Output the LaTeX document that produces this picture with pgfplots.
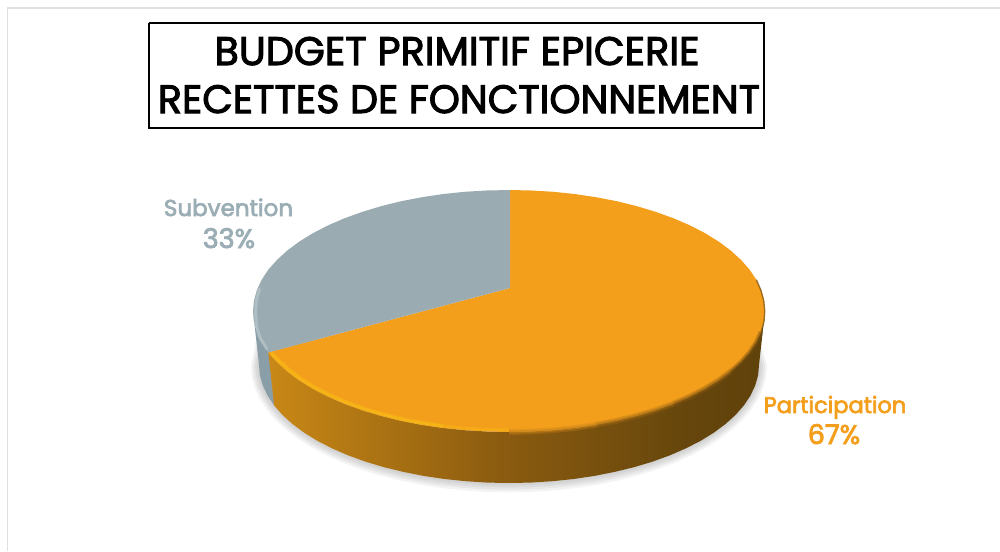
\documentclass[border=0pt]{standalone}
\usepackage{fontspec}
\usepackage{graphicx}
\usepackage{pgfplots}
\usepackage{pgfplotstable}
\pgfplotsset{compat=1.18}
\setmainfont{Poppins}
\newfontfamily\titlefont[FakeBold=2.6]{Poppins}
\newfontfamily\labfont[FakeBold=3]{Poppins}
\definecolor{face}{HTML}{F49F1C}
\definecolor{slate}{HTML}{9AACB2}
\definecolor{slateside}{HTML}{8A9EA8}
\definecolor{slatelab}{HTML}{9BAEB5}
\definecolor{framec}{HTML}{E0E0E0}
\definecolor{sA}{HTML}{EE9E18}
\definecolor{sB}{HTML}{C98816}
\definecolor{sC}{HTML}{8C5C10}
\definecolor{sD}{HTML}{66460C}
\definecolor{sE}{HTML}{5F420B}
\pgfdeclarehorizontalshading{sideshade}{100bp}{color(0bp)=(sA); color(25bp)=(sB); color(48bp)=(sC); color(67bp)=(sD); color(75bp)=(sE); color(100bp)=(sE)}
\pgfplotstableread{
x y
752 340
759 365
758.1 375.3
755.2 385.5
750.5 395.5
743.9 405.4
735.6 414.9
725.5 424
713.8 432.7
700.5 440.9
685.8 448.4
669.7 455.4
652.4 461.7
634 467.2
614.7 471.9
594.5 475.9
573.7 479
552.4 481.2
530.8 482.6
509 483
487.2 482.6
465.6 481.2
444.3 479
423.5 475.9
403.3 471.9
384 467.2
365.6 461.7
348.3 455.4
332.2 448.4
317.5 440.9
304.2 432.7
292.5 424
282.4 414.9
274.1 405.4
267.5 395.5
262.8 385.5
259.9 375.3
259 365
264 340
}\shadowtbl
\pgfplotstableread{
x y
509 432
531.3 431.5
553.4 430.2
575.3 427.9
596.6 424.7
}\rimA
\pgfplotstableread{
x y
596.6 424.7
617.2 420.7
637 415.8
655.8 410.1
673.6 403.7
}\rimB
\pgfplotstableread{
x y
673.6 403.7
690 396.6
705.1 388.8
718.7 380.4
730.7 371.5
}\rimC
\pgfplotstableread{
x y
730.7 371.5
741 362.1
749.6 352.4
756.3 342.3
761.1 332
}\rimD
\begin{document}
\begin{tikzpicture}
\begin{axis}[
  scale only axis, width=1000pt, height=551pt,
  xmin=0, xmax=1000, ymin=0, ymax=551, y dir=reverse,
  hide axis, no markers, clip=true]
% page background
\addplot[fill=white, draw=none] coordinates {(0,0)(1000,0)(1000,551)(0,551)};
% frame
\addplot[draw=framec, line width=1.8pt] coordinates {(7.5,551)(7.5,8)(1000,8)};
% soft shadow under the pie
\addplot[fill=black!22, draw=none, fill opacity=0.20] table[x expr={509+(\thisrow{x}-509)*1.032}, y expr={350+(\thisrow{y}-350)*1.07}] {\shadowtbl};
\addplot[fill=black!22, draw=none, fill opacity=0.26] table[x expr={509+(\thisrow{x}-509)*1.024}, y expr={350+(\thisrow{y}-350)*1.052}] {\shadowtbl};
\addplot[fill=black!22, draw=none, fill opacity=0.32] table[x expr={509+(\thisrow{x}-509)*1.016}, y expr={350+(\thisrow{y}-350)*1.035}] {\shadowtbl};
\addplot[fill=black!22, draw=none, fill opacity=0.40] table[x expr={509+(\thisrow{x}-509)*1.008}, y expr={350+(\thisrow{y}-350)*1.018}] {\shadowtbl};
% grey side
\addplot[fill=slateside, draw=none] coordinates {
(253,311)(254,321.5)(256.9,332)(261.7,342.3)(268.4,352.4)(272,356)(274.1,405.4)(267.5,395.5)(262.8,385.5)(259.9,375.3)(259,365)};
% orange side
\addplot[shade, shading=sideshade, draw=none] coordinates {
(268.4,352.4)(274.1,405.4)(282.4,414.9)(292.5,424)(304.2,432.7)(317.5,440.9)(332.2,448.4)(348.3,455.4)(365.6,461.7)(384,467.2)(403.3,471.9)(423.5,475.9)(444.3,479)(465.6,481.2)(487.2,482.6)(509,483)(530.8,482.6)(552.4,481.2)(573.7,479)(594.5,475.9)(614.7,471.9)(634,467.2)(652.4,461.7)(669.7,455.4)(685.8,448.4)(700.5,440.9)(713.8,432.7)(725.5,424)(735.6,414.9)(743.9,405.4)(750.5,395.5)(755.2,385.5)(758.1,375.3)(759,365)
(765,311)(764,321.5)(761.1,332)(756.3,342.3)(749.6,352.4)(741,362.1)(730.7,371.5)(718.7,380.4)(705.1,388.8)(690,396.6)(673.6,403.7)(655.8,410.1)(637,415.8)(617.2,420.7)(596.6,424.7)(575.3,427.9)(553.4,430.2)(531.3,431.5)(509,432)(486.7,431.5)(464.6,430.2)(442.7,427.9)(421.4,424.7)(400.8,420.7)(381,415.8)(362.2,410.1)(344.4,403.7)(328,396.6)(312.9,388.8)(299.3,380.4)(287.3,371.5)(277,362.1)};
% orange share of the top face (67)
\addplot[fill=face, draw=none] coordinates {
(765,311)(764,321.5)(761.1,332)(756.3,342.3)(749.6,352.4)(741,362.1)(730.7,371.5)(718.7,380.4)(705.1,388.8)(690,396.6)(673.6,403.7)(655.8,410.1)(637,415.8)(617.2,420.7)(596.6,424.7)(575.3,427.9)(553.4,430.2)(531.3,431.5)(509,432)(486.7,431.5)(464.6,430.2)(442.7,427.9)(421.4,424.7)(400.8,420.7)(381,415.8)(362.2,410.1)(344.4,403.7)(328,396.6)(312.9,388.8)(299.3,380.4)(287.3,371.5)(277,362.1)(268.4,352.4)
(510,288)(510,190)(531.3,190.5)(553.4,191.8)(575.3,194.1)(596.6,197.3)(617.2,201.3)(637,206.2)(655.8,211.9)(673.6,218.3)(690,225.4)(705.1,233.2)(718.7,241.6)(730.7,250.5)(741,259.9)(749.6,269.6)(756.3,279.7)(761.1,290)(764,300.5)};
% grey share of the top face (33)
\addplot[fill=slate, draw=none] coordinates {
(510,288)(510,190)(486.7,190.5)(464.6,191.8)(442.7,194.1)(421.4,197.3)(400.8,201.3)(381,206.2)(362.2,211.9)(344.4,218.3)(328,225.4)(312.9,233.2)(299.3,241.6)(287.3,250.5)(277,259.9)(268.4,269.6)(261.7,279.7)(256.9,290)(254,300.5)(253,311)(254,321.5)(256.9,332)(261.7,342.3)(268.4,352.4)};
% bevel on the rim: grey
\addplot[draw=slate!60!white, line width=3pt, line cap=round, opacity=0.55] coordinates {(267,349)(260,338)(256.5,326)(255.5,312)(256.5,300)(259.5,289)};
% bevel on the rim: orange, light to the left
\addplot[draw=face!70!yellow, line width=4.5pt, opacity=0.35] coordinates {(271,353)(279,361)(289,370)(301,379)(314.5,387.5)(329.5,395)(345.5,402)(363,408.5)(382,414)(401.5,419)(422,423)(443,426)};
\addplot[draw=face!70!yellow, line width=2.4pt, opacity=0.6] coordinates {(271,353)(279,361)(289,370)(301,379)(314.5,387.5)(329.5,395)(345.5,402)(363,408.5)(382,414)(401.5,419)(422,423)(443,426)};
\addplot[draw=face!70!yellow, line width=3pt, opacity=0.4] coordinates {(443,426)(465,428.3)(487,429.5)(509,430)};
% bevel on the rim: orange, dark to the right
\addplot[draw=face!82!black, line width=6pt, opacity=0.3] table {\rimA};
\addplot[draw=face!82!black, line width=3pt, opacity=0.5] table {\rimA};
\addplot[draw=face!68!black, line width=6pt, opacity=0.3] table {\rimB};
\addplot[draw=face!68!black, line width=3pt, opacity=0.5] table {\rimB};
\addplot[draw=face!58!black, line width=6pt, opacity=0.3] table {\rimC};
\addplot[draw=face!58!black, line width=3pt, opacity=0.5] table {\rimC};
\addplot[draw=face!50!black, line width=5pt, opacity=0.3] table {\rimD};
\addplot[draw=face!50!black, line width=2.5pt, opacity=0.5] table {\rimD};
\addplot[draw=face!50!black, line width=1.4pt, opacity=0.7] coordinates {(761.1,332)(764,321.5)(764.7,311)(763.7,300.5)(760.8,290)(756.3,279.7)};
% title box
\addplot[fill=white, draw=black, line width=1.8pt] coordinates {(149,23)(764,23)(764,128)(149,128)(149,23)};
\node[anchor=base, inner sep=0pt, text=black] at (axis cs:457,65) {\resizebox{485pt}{!}{\titlefont BUDGET PRIMITIF EPICERIE}};
\node[anchor=base, inner sep=0pt, text=black] at (axis cs:459,113) {\resizebox{602pt}{!}{\titlefont RECETTES DE FONCTIONNEMENT}};
% labels
\node[anchor=base, inner sep=0pt, text=slatelab, font=\labfont\fontsize{23}{28}\selectfont] at (axis cs:228.5,216) {Subvention};
\node[anchor=base, inner sep=0pt, text=slatelab, font=\labfont\fontsize{27}{30}\selectfont] at (axis cs:229,248) {33\%};
\node[anchor=base, inner sep=0pt, text=face, font=\labfont\fontsize{22.5}{28}\selectfont] at (axis cs:835,413) {Participation};
\node[anchor=base, inner sep=0pt, text=face, font=\labfont\fontsize{27}{30}\selectfont] at (axis cs:834,444) {67\%};
\end{axis}
\end{tikzpicture}
\end{document}
